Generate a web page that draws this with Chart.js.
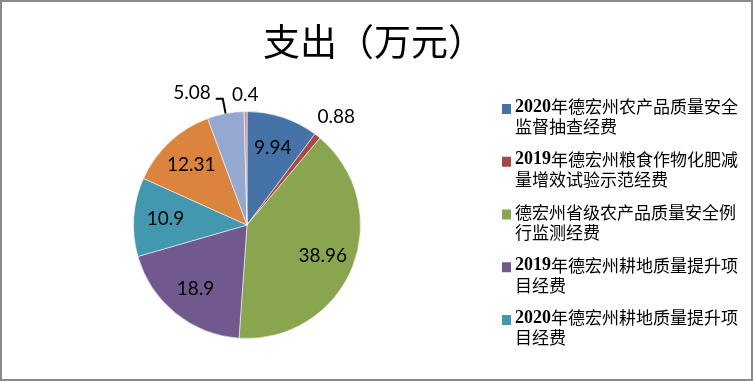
<!DOCTYPE html>
<html><head><meta charset="utf-8">
<script src="https://cdn.jsdelivr.net/npm/chart.js@4.4.1/dist/chart.umd.min.js"></script>
<style>html,body{margin:0;padding:0;background:#fff;}canvas{display:block;}</style>
</head><body>
<canvas id="c" width="753" height="381"></canvas>
<script>
const chartTitle = '支出（万元）';
const categories = [
  '2020年德宏州农产品质量安全监督抽查经费',
  '2019年德宏州粮食作物化肥减量增效试验示范经费',
  '德宏州省级农产品质量安全例行监测经费',
  '2019年德宏州耕地质量提升项目经费',
  '2020年德宏州耕地质量提升项目经费',
  '', '', ''
];
const values = [9.94, 0.88, 38.96, 18.9, 10.9, 12.31, 5.08, 0.4];
const valueLabels = ['9.94', '0.88', '38.96', '18.9', '10.9', '12.31', '5.08', '0.4'];
const colors = ['#4572A7', '#AA4643', '#89A54E', '#71588F', '#4198AF', '#DB843D', '#93A9CF', '#D19392'];
const labelModes = ['in', 'out', 'in', 'in', 'in', 'in', 'leader', 'out'];
const legendCount = 5;

const CJK_FONT = '"Noto Sans CJK SC", sans-serif';

const decorPlugin = {
  id: 'decor',
  beforeDraw(chart) {
    const ctx = chart.ctx;
    ctx.save();
    ctx.fillStyle = '#fff';
    ctx.fillRect(0, 0, chart.width, chart.height);
    ctx.restore();
  },
  afterDraw(chart) {
    const ctx = chart.ctx;
    ctx.save();
    // title
    ctx.fillStyle = '#000';
    ctx.font = '37px ' + CJK_FONT;
    ctx.textAlign = 'center';
    ctx.textBaseline = 'middle';
    ctx.fillText(chartTitle, 374, 42);

    // value labels
    const meta = chart.getDatasetMeta(0);
    ctx.font = '19px Lato, "Open Sans", sans-serif';
    meta.data.forEach((arc, i) => {
      const p = arc.getProps(['x', 'y', 'startAngle', 'endAngle', 'outerRadius'], true);
      const mid = (p.startAngle + p.endAngle) / 2;
      const c = Math.cos(mid), s = Math.sin(mid);
      const R = p.outerRadius;
      const txt = valueLabels[i];
      ctx.fillStyle = '#000';
      ctx.textBaseline = 'middle';
      if (labelModes[i] === 'in') {
        const r = R * 0.72;
        ctx.textAlign = 'center';
        ctx.fillText(txt, p.x + r * c, p.y + r * s);
      } else if (labelModes[i] === 'out') {
        const w = ctx.measureText(txt).width;
        const r = R + 10 + (w / 2) * Math.abs(c) + 7 * Math.abs(s);
        ctx.textAlign = 'center';
        ctx.fillText(txt, p.x + r * c + 3 * Math.abs(c), p.y + r * s + 4 * Math.abs(c));
      } else {
        const ex = p.x + R * c, ey = p.y + R * s;
        const bx = p.x + (R + 15) * c, by = p.y + (R + 15) * s;
        const hx = bx - 7;
        ctx.strokeStyle = '#000';
        ctx.lineWidth = 2;
        ctx.beginPath();
        ctx.moveTo(ex, ey);
        ctx.lineTo(bx, by);
        ctx.lineTo(hx, by);
        ctx.stroke();
        ctx.textAlign = 'right';
        ctx.fillText(txt, hx - 5, by - 6);
      }
    });

    // legend
    const maxW = 228;
    const latinFont = 'bold 18px "Liberation Serif", serif';
    const cjkFont = '17px ' + CJK_FONT;
    const tokenize = (str) => {
      const toks = [];
      let i = 0;
      while (i < str.length) {
        if (/[0-9A-Za-z.]/.test(str[i])) {
          let j = i;
          while (j < str.length && /[0-9A-Za-z.]/.test(str[j])) j++;
          toks.push({ t: str.slice(i, j), f: latinFont });
          i = j;
        } else {
          toks.push({ t: str[i], f: cjkFont });
          i++;
        }
      }
      toks.forEach(k => { ctx.font = k.f; k.w = ctx.measureText(k.t).width; });
      return toks;
    };
    const x0 = 515;
    const y0 = 107;
    const step = 52.75;
    for (let i = 0; i < legendCount; i++) {
      const toks = tokenize(categories[i]);
      const lines = [[]];
      let lw = 0;
      toks.forEach(k => {
        if (lw + k.w > maxW && lines[lines.length - 1].length) { lines.push([]); lw = 0; }
        lines[lines.length - 1].push(k);
        lw += k.w;
      });
      const ly = y0 + i * step;
      ctx.fillStyle = colors[i];
      ctx.fillRect(502, ly - 3, 9, 10);
      ctx.fillStyle = '#000';
      ctx.textAlign = 'left';
      ctx.textBaseline = 'middle';
      lines.forEach((ln, li) => {
        let x = x0;
        ln.forEach(k => {
          ctx.font = k.f;
          ctx.fillText(k.t, x, ly + li * 20);
          x += k.w;
        });
      });
    }

    // outer frame
    ctx.strokeStyle = '#898989';
    ctx.lineWidth = 2;
    ctx.strokeRect(1, 1, chart.width - 2, chart.height - 2);
    ctx.restore();
  }
};

new Chart(document.getElementById('c'), {
  type: 'pie',
  data: {
    labels: categories,
    datasets: [{
      data: values,
      backgroundColor: colors,
      borderColor: 'rgba(255,255,255,0.55)',
      borderWidth: 1
    }]
  },
  options: {
    responsive: false,
    animation: false,
    devicePixelRatio: 1,
    layout: { padding: { left: 133, right: 392, top: 111, bottom: 42 } },
    plugins: {
      legend: { display: false },
      title: { display: false },
      tooltip: { enabled: false }
    }
  },
  plugins: [decorPlugin]
});
</script>
</body></html>
